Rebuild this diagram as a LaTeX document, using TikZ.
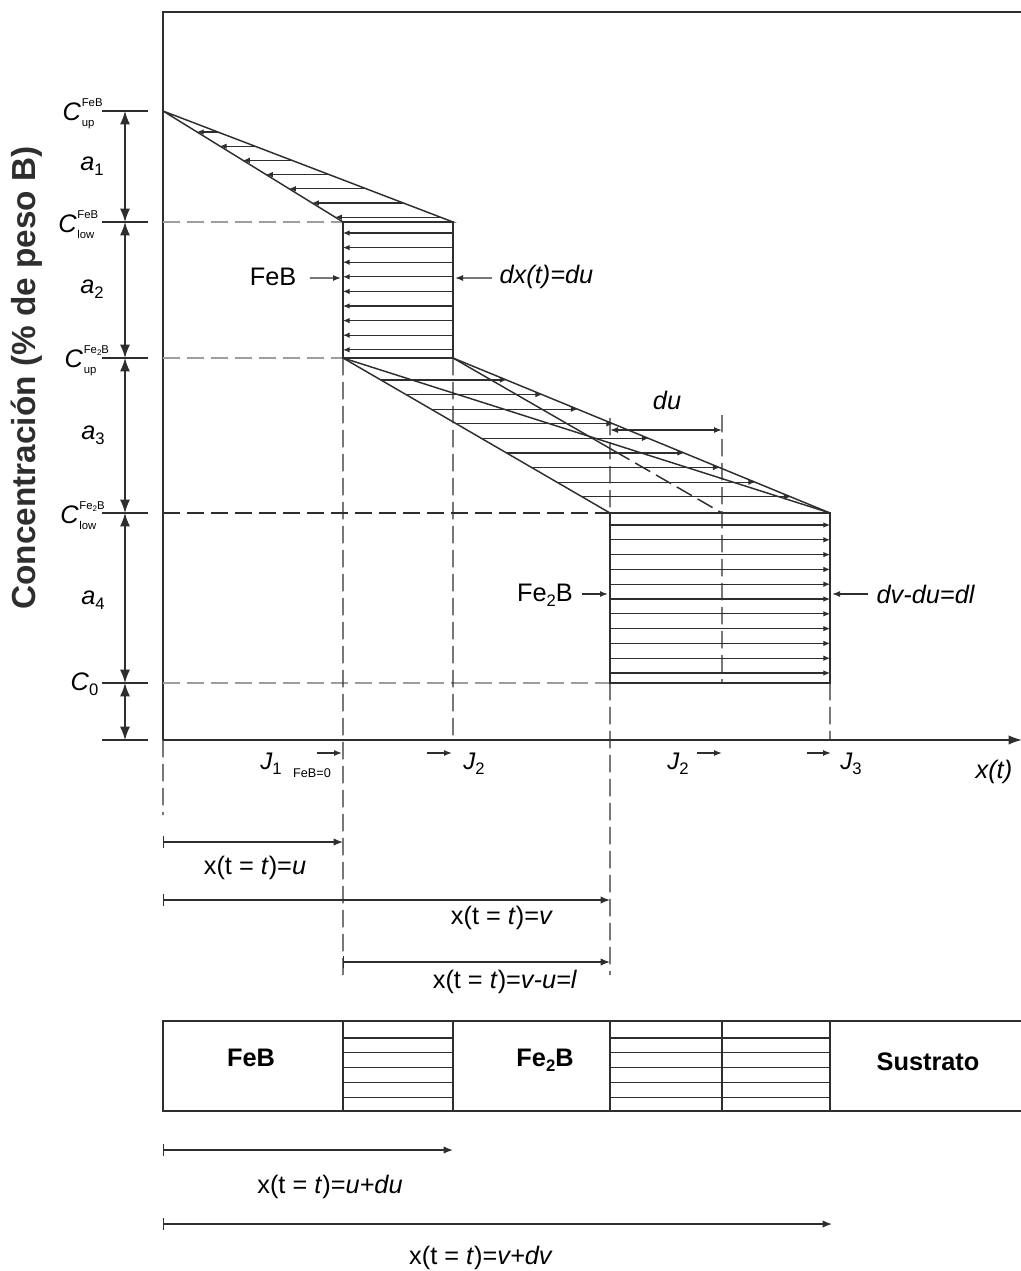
\documentclass[tikz,border=0pt]{standalone}
\usepackage{fontspec}
\setmainfont{Liberation Sans}
\usetikzlibrary{arrows.meta,calc}
\usepackage{tkz-euclide}
\definecolor{LineClr}{gray}{0.18}
\definecolor{DashClr}{gray}{0.62}

\newcommand\smallfnt{\fontsize{8.5}{8.5}\selectfont}
\newcommand\subfnt{\fontsize{12.5}{13}\selectfont}
\newcommand\Conc[2]{\textit{C}\kern.5pt\makebox[0pt][l]{\raisebox{10.5pt}{\smallfnt #1}}\raisebox{-4.5pt}{\smallfnt #2}}
\newcommand\Sub[1]{\raisebox{-4pt}{\subfnt\upshape #1}}

\begin{document}
\begin{tikzpicture}[x=1pt,y=-1pt,scale=.75,
  main/.style={line width=1.1pt,color=LineClr},
  hatch/.style={line width=.8pt,color=LineClr},
  tip/.style={-{Latex[length=5pt,width=4.2pt]}},
  jtip/.style={-{Latex[length=6pt,width=4.5pt]},line width=1pt,color=LineClr},
  dimen/.style={{Latex[length=10pt,width=7.5pt]}-{Latex[length=10pt,width=7.5pt]},line width=1pt,color=LineClr},
  span/.style={{Bar[width=9pt]}-{Latex[length=7pt,width=5.5pt]},line width=1pt,color=LineClr},
  guide/.style={dash pattern=on 13pt off 5pt,line width=.9pt,color=DashClr},
  guidedk/.style={dash pattern=on 13pt off 5pt,line width=.9pt,color=LineClr},
  lbl/.style={inner sep=1pt,font=\fontsize{19}{22}\selectfont},
  strip/.style={inner sep=1pt,font=\fontsize{19}{22}\selectfont\bfseries}]
\useasboundingbox (0,0) rectangle (1021,1271);

% profile points
\tkzDefPoints{163/12/Ytop,163/740/O,1022/740/Xend,163/111/A,343/222/B,453/222/Bp,343/358/C,453/358/D,610/513/E,722/513/F,830/513/G,610/683/H,722/683/K,830/683/I}

% frame and axis
\draw[main] (Ytop -| Xend) -- (Ytop) -- (O);
\draw[main,-{Latex[length=10pt,width=7pt]}] (O) -- (Xend);
\node[rotate=90,font=\fontsize{25}{28}\selectfont\bfseries,color=LineClr] (ylab) at (27,378) {Concentración (\% de peso B)};

% concentration levels
\foreach \yy in {111,222,358,513,683,740}
  \draw[main] (102,\yy) -- (148,\yy);
\foreach \ya/\yb in {111/222,222/358,358/513,513/683,683/740}
  \draw[dimen] (125,\ya) -- (125,\yb);

\node[lbl,anchor=east] (cupfeb) at (96,114) {\Conc{FeB}{up}};
\node[lbl,anchor=east] (clowfeb) at (96,225) {\Conc{FeB}{low}};
\node[lbl,anchor=east] (cupfe) at (98,361) {\Conc{Fe\raisebox{-1.5pt}{\fontsize{6}{6}\selectfont 2}B}{up}};
\node[lbl,anchor=east] (clowfe) at (98,516) {\Conc{Fe\raisebox{-1.5pt}{\fontsize{6}{6}\selectfont 2}B}{low}};
\node[lbl,anchor=east] (czero) at (100,684) {\textit{C}\Sub{0}};
\node[lbl,font=\fontsize{19}{22}\selectfont\itshape] (aone) at (92,166) {a\Sub{1}};
\node[lbl,font=\fontsize{19}{22}\selectfont\itshape] (atwo) at (92,289) {a\Sub{2}};
\node[lbl,font=\fontsize{19}{22}\selectfont\itshape] (athree) at (93,435) {a\Sub{3}};
\node[lbl,font=\fontsize{19}{22}\selectfont\itshape] (afour) at (93,600) {a\Sub{4}};

% guide lines
\draw[guide] (A |- B) -- (B);
\draw[guide] (A |- C) -- (C);
\draw[guidedk] (A |- E) -- (E);
\draw[guide] (A |- H) -- (H);
\draw[guidedk] (C) -- (343,975);
\draw[guidedk] (D) -- (453,740);
\draw[guidedk] (H) -- (610,975);
\draw[guidedk] (I) -- (830,740);
\draw[guidedk] (O) -- (163,815);
\draw[guidedk] (610,418) -- (E);
\draw[guidedk] (722,415) -- (F) -- (K);

% FeB layer
\foreach \k in {0,...,6}{
  \pgfmathsetmacro\t{(21+14.2*\k)/111}
  \draw[hatch,tip] ($(A)!\t!(Bp)$) -- ($(A)!\t!(B)$);
}
\draw[main] (A) -- (B) -- (Bp) -- cycle;
\foreach \k in {0,...,8}
  \draw[hatch,tip] (453,{233+14.6*\k}) -- (343,{233+14.6*\k});
\draw[main] (B) rectangle (D);

% Fe2B layer
\foreach \k in {0,...,8}{
  \pgfmathsetmacro\t{(22+14.6*\k)/155}
  \draw[hatch,tip] ($(C)!\t!(E)$) -- ($(D)!\t!(G)$);
}
\draw[main] (C) -- (E);
\draw[main] (C) -- (G);
\draw[main] (D) -- (G);
\draw[main] (D) -- ($(D)!.6!(F)$);
\draw[guidedk,line width=1.1pt] ($(D)!.6!(F)$) -- (F);
\foreach \k in {0,...,10}
  \draw[hatch,tip] (610,{525+14.8*\k}) -- (830,{525+14.8*\k});
\draw[main] (E) rectangle (I);

\draw[hatch,{Latex[length=6pt,width=4.5pt]}-{Latex[length=6pt,width=4.5pt]},line width=1pt] (610,430) -- (722,430);
\node[lbl,font=\fontsize{19}{22}\selectfont\itshape] (du) at (667,400) {du};

% layer labels
\node[lbl] (feb) at (273,277) {FeB};
\draw[jtip] (feb.east) ++(12,1) -- (341,278);
\node[lbl,anchor=west,font=\fontsize{19}{22}\selectfont\itshape] (dx) at (498,277) {dx(t)=du};
\draw[jtip] (dx.west) ++(-6,1) -- (455,278);
\node[lbl] (fetwo) at (545,595) {Fe\Sub{2}B};
\draw[jtip] (582,594) -- (608,594);
\node[lbl,anchor=west,font=\fontsize{19}{22}\selectfont\itshape] (dl) at (875,594) {dv-du=dl};
\draw[jtip] (868,594) -- (832,594);

% fluxes
\node[lbl,font=\fontsize{18}{22}\selectfont\itshape] (jone) at (271,764) {J\Sub{1}};
\node[inner sep=0pt,font=\fontsize{9.5}{10}\selectfont] (jzero) at (312,773) {FeB=0};
\draw[jtip] (317,753) -- (342,753);
\draw[jtip] (427,753) -- (452,753);
\node[lbl,font=\fontsize{18}{22}\selectfont\itshape] (jtwo) at (474,764) {J\Sub{2}};
\node[lbl,font=\fontsize{18}{22}\selectfont\itshape] (jtwob) at (678,764) {J\Sub{2}};
\draw[jtip] (697,753) -- (722,753);
\draw[jtip] (807,753) -- (831,753);
\node[lbl,font=\fontsize{18}{22}\selectfont\itshape] (jthree) at (851,764) {J\Sub{3}};
\node[lbl,anchor=west,font=\fontsize{19}{22}\selectfont\itshape] (xt) at (974,772) {x(t)};

% positions at time t
\draw[span] (163,842) -- (343,842);
\node[lbl] (posu) at (255,868) {x(t = \textit{t})=\textit{u}};
\draw[span] (163,900) -- (610,900);
\node[lbl] (posv) at (502,918) {x(t = \textit{t})=\textit{v}};
\draw[span] (343,962) -- (610,962);
\node[lbl] (posl) at (505,982) {x(t = \textit{t})=\textit{v-u=l}};

% layer strip
\draw[main] (1025,1021) -- (163,1021) -- (163,1111) -- (1025,1111);
\foreach \xx in {343,453,610,722,830}
  \draw[main] (\xx,1021) -- (\xx,1111);
\foreach \k in {0,...,4}{
  \draw[hatch] (343,{1038+14.8*\k}) -- (453,{1038+14.8*\k});
  \draw[hatch] (610,{1038+14.8*\k}) -- (830,{1038+14.8*\k});
}
\node[strip] (sfeb) at (251,1058) {FeB};
\node[strip] (sfetwo) at (545,1060) {Fe\Sub{2}B};
\node[strip] (ssub) at (928,1062) {Sustrato};

% positions at time t+dt
\draw[span] (163,1150) -- (453,1150);
\node[lbl] (posdu) at (330,1187) {x(t = \textit{t})=\textit{u+du}};
\draw[span] (163,1224) -- (832,1224);
\node[lbl] (posdv) at (481,1258) {x(t = \textit{t})=\textit{v+dv}};

\end{tikzpicture}
\end{document}
